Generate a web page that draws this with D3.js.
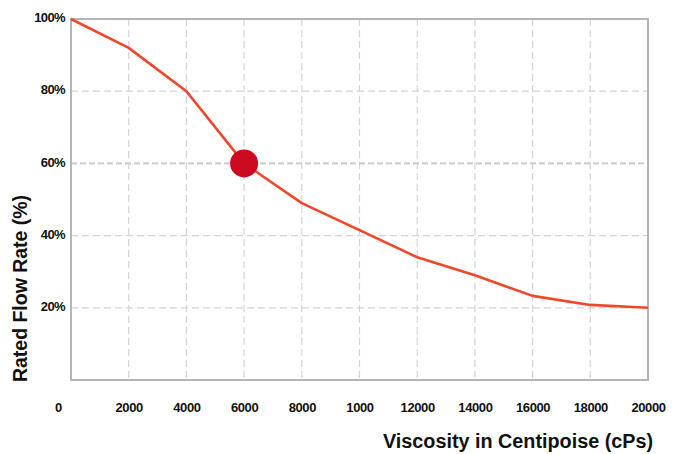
<!DOCTYPE html>
<html>
<head>
<meta charset="utf-8">
<script src="https://cdn.jsdelivr.net/npm/d3@7"></script>
<style>
  html, body { margin: 0; padding: 0; background: #fff; }
  svg { display: block; font-family: "Liberation Sans", Arial, sans-serif; }
</style>
</head>
<body>
<svg id="chart" width="683" height="454"></svg>
<script>
// Data
const viscosity = [0, 2000, 4000, 6000, 8000, 10000, 12000, 14000, 16000, 18000, 20000];
const flowRate  = [100, 92, 80, 60, 49, 41.5, 34, 29, 23.3, 20.8, 20];
const highlightViscosity = [6000];
const highlightFlow = [60];
const xTickValues = [0, 2000, 4000, 6000, 8000, 10000, 12000, 14000, 16000, 18000, 20000];
const xTickLabels = ["0", "2000", "4000", "6000", "8000", "1000", "12000", "14000", "16000", "18000", "20000"];
const yTickValues = [20, 40, 60, 80, 100];
const yTickLabels = ["20%", "40%", "60%", "80%", "100%"];
const xTitle = "Viscosity in Centipoise (cPs)";
const yTitle = "Rated Flow Rate (%)";

const svg = d3.select("#chart");
const mLeft = 71, mRight = 648, mTop = 19, mBottom = 380;

const x = d3.scaleLinear().domain([0, 20000]).range([mLeft, mRight]);
const y = d3.scaleLinear().domain([0, 100]).range([mBottom, mTop]);

// Grid lines
const grid = svg.append("g");
grid.selectAll("line.v")
  .data(xTickValues.filter(v => v > 0 && v < 20000))
  .join("line")
  .attr("x1", d => x(d)).attr("x2", d => x(d))
  .attr("y1", mTop).attr("y2", mBottom)
  .attr("stroke", "#d4d4d4").attr("stroke-width", 1.2)
  .attr("stroke-dasharray", "7,4");
grid.selectAll("line.h")
  .data(yTickValues.filter(v => v < 100))
  .join("line")
  .attr("x1", mLeft).attr("x2", mRight)
  .attr("y1", d => y(d)).attr("y2", d => y(d))
  .attr("stroke", d => d === 60 ? "#cfcfcf" : "#d4d4d4")
  .attr("stroke-width", d => d === 60 ? 2.2 : 1.2)
  .attr("stroke-dasharray", d => d === 60 ? "6,3" : "7,4");

// Frame
svg.append("rect")
  .attr("x", mLeft).attr("y", mTop)
  .attr("width", mRight - mLeft).attr("height", mBottom - mTop)
  .attr("fill", "none").attr("stroke", "#b4b4b4").attr("stroke-width", 2);

// Axes (labels only)
const xAxis = d3.axisBottom(x)
  .tickValues(xTickValues)
  .tickFormat((d, i) => xTickLabels[i])
  .tickSize(0).tickPadding(0);
const gx = svg.append("g").attr("transform", `translate(0,${mBottom})`).call(xAxis);
gx.select(".domain").remove();
gx.selectAll("text")
  .attr("y", 32).attr("dy", 0)
  .attr("fill", "#111")
  .style("font-size", "13px").style("font-weight", "bold")
  .style("letter-spacing", "-0.4px")
  .attr("dx", d => d === 0 ? -13 : 0);

const yAxis = d3.axisLeft(y)
  .tickValues(yTickValues)
  .tickFormat((d, i) => yTickLabels[i])
  .tickSize(0).tickPadding(0);
const gy = svg.append("g").attr("transform", `translate(${mLeft},0)`).call(yAxis);
gy.select(".domain").remove();
gy.selectAll("text")
  .attr("x", -6).attr("dy", "0.2em")
  .attr("fill", "#111")
  .style("font-size", "13px").style("font-weight", "bold")
  .style("letter-spacing", "-0.6px");

// Line
const line = d3.line().x(d => x(d[0])).y(d => y(d[1]));
svg.append("path")
  .datum(viscosity.map((v, i) => [v, flowRate[i]]))
  .attr("d", line)
  .attr("fill", "none")
  .attr("stroke", "#f0472b")
  .attr("stroke-width", 2.6)
  .attr("stroke-linejoin", "round");

// Highlight marker
svg.selectAll("circle.mark")
  .data(highlightViscosity.map((v, i) => [v, highlightFlow[i]]))
  .join("circle")
  .attr("cx", d => x(d[0])).attr("cy", d => y(d[1]))
  .attr("r", 14)
  .attr("fill", "#cc0a1f");

// Titles
svg.append("text")
  .attr("x", 383).attr("y", 448)
  .attr("fill", "#111")
  .style("font-size", "19.5px").style("font-weight", "bold")
  .attr("textLength", 270).attr("lengthAdjust", "spacingAndGlyphs")
  .text(xTitle);

svg.append("text")
  .attr("transform", "translate(27,382) rotate(-90)")
  .attr("fill", "#111")
  .style("font-size", "19.5px").style("font-weight", "bold")
  .attr("textLength", 187).attr("lengthAdjust", "spacingAndGlyphs")
  .text(yTitle);
</script>
</body>
</html>
